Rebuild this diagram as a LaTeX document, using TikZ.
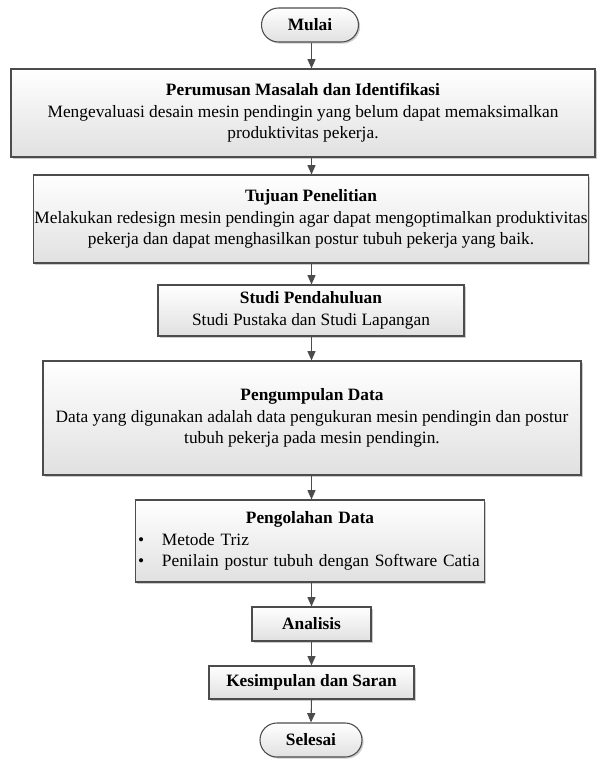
\documentclass[tikz,border=0pt]{standalone}
\usepackage{fontspec}
\setmainfont{Liberation Serif}
\usepackage{tikz}
\usetikzlibrary{positioning,arrows.meta,shadows}

\tikzset{
  proses/.style={draw=black!70, line width=0.8pt, fill=white,
    top color=white, bottom color=black!12,
    drop shadow={shadow xshift=1.2pt, shadow yshift=-1.2pt, opacity=0.2, fill=black},
    align=center, inner sep=1pt,
    font=\fontsize{13}{16}\selectfont},
  terminal/.style={proses, rounded corners=12.7pt},
  panah/.style={draw=black!70, line width=0.8pt, -{Triangle[width=6pt,length=7pt]}}
}

\begin{document}
\begin{tikzpicture}[x=0.75pt, y=-0.75pt]
\useasboundingbox (0,0) rectangle (608,761);

\node[terminal, minimum width=72.75pt, minimum height=25.5pt] (mulai) at (310,25) {\textbf{Mulai}};
\node[proses, minimum width=438pt, minimum height=66pt] (perumusan) at (303,113)
  {\textbf{Perumusan Masalah dan Identifikasi}\\
   Mengevaluasi desain mesin pendingin yang belum dapat memaksimalkan\\
   produktivitas pekerja.};
\node[proses, minimum width=414pt, minimum height=66pt] (tujuan) at (311,219)
  {\textbf{Tujuan Penelitian}\\
   Melakukan redesign mesin pendingin agar dapat mengoptimalkan produktivitas\\
   pekerja dan dapat menghasilkan postur tubuh pekerja yang baik.};
\node[proses, minimum width=229.5pt, minimum height=38.25pt] (studi) at (311,310.5)
  {\textbf{Studi Pendahuluan}\\
   Studi Pustaka dan Studi Lapangan};
\node[proses, minimum width=403.5pt, minimum height=85.5pt] (pengumpulan) at (312,418)
  {\textbf{Pengumpulan Data}\\
   Data yang digunakan adalah data pengukuran mesin pendingin dan postur\\
   tubuh pekerja pada mesin pendingin.};
\node[proses, minimum width=262pt, minimum height=61.5pt, align=left, text width=258pt] (pengolahan) at (310,541)
  {\makebox[258pt]{\textbf{Pengolahan Data}}\\
   \mbox{\makebox[18pt][l]{\textbullet}Metode Triz}\\
   \mbox{\makebox[18pt][l]{\textbullet}Penilain postur tubuh dengan Software Catia}};
\node[proses, minimum width=89.25pt, minimum height=25.5pt] (analisis) at (311.5,624) {\textbf{Analisis}};
\node[proses, minimum width=153.75pt, minimum height=24.75pt] (kesimpulan) at (311.5,682.5) {\textbf{Kesimpulan dan Saran}};
\node[terminal, minimum width=76.5pt, minimum height=25.5pt] (selesai) at (311,740) {\textbf{Selesai}};

% alur
\draw[panah] (mulai.south -| analisis.north) -- (perumusan.north -| analisis.north);
\draw[panah] (perumusan.south -| analisis.north) -- (tujuan.north -| analisis.north);
\draw[panah] (tujuan.south -| analisis.north) -- (studi.north -| analisis.north);
\draw[panah] (studi.south -| analisis.north) -- (pengumpulan.north -| analisis.north);
\draw[panah] (pengumpulan.south -| analisis.north) -- (pengolahan.north -| analisis.north);
\draw[panah] (pengolahan.south -| analisis.north) -- (analisis.north);
\draw[panah] (analisis.south) -- (kesimpulan.north);
\draw[panah] (kesimpulan.south) -- (selesai.north);
\end{tikzpicture}
\end{document}
